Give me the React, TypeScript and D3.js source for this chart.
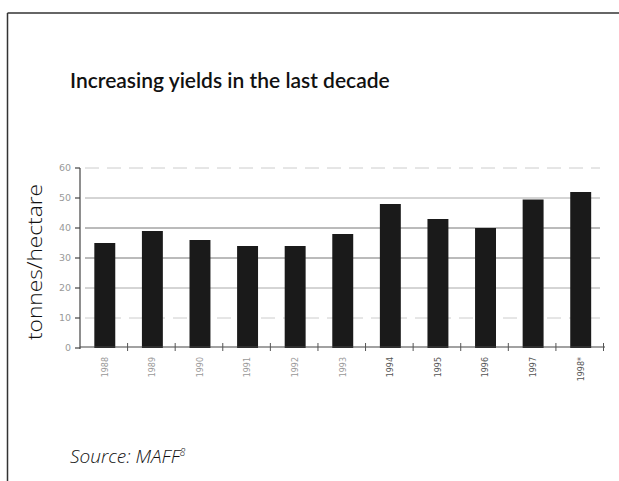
import React from "react";
import * as d3 from "d3";

const years = ["1988", "1989", "1990", "1991", "1992", "1993", "1994", "1995", "1996", "1997", "1998*"];
const yields = [35, 39, 36, 34, 34, 38, 48, 43, 40, 49.5, 52];
const yTicks = [0, 10, 20, 30, 40, 50, 60];
const gridColors = ["#ccc", "#ccc", "#aaa", "#777", "#777", "#aaa", "#ccc"];

const W = 619;
const H = 481;

export default function App() {
  const x = d3.scaleBand<string>().domain(years).range([80, 603.5]).padding(0);
  const y = d3.scaleLinear().domain([0, 60]).range([348, 168]);
  const step = x.step();
  const barW = step * 0.44;

  return (
    <svg width={W} height={H} style={{ position: "absolute", left: 0, top: 0, background: "#fff" }}>
      {/* frame */}
      <line x1={7.5} y1={13} x2={W} y2={13} stroke="#333" strokeWidth={1.5} />
      <line x1={7.5} y1={13} x2={7.5} y2={H} stroke="#333" strokeWidth={1.5} />

      <text x={70} y={88} fontFamily="Lato, 'Open Sans', sans-serif" fontSize={21} fontWeight={600} fill="#111">
        Increasing yields in the last decade
      </text>

      {/* gridlines */}
      {yTicks.filter((t) => t > 0).map((t, i) => (
        <line key={"g" + t} x1={85} x2={600} y1={y(t)} y2={y(t)} stroke={gridColors[i + 1]} strokeWidth={1}
          strokeDasharray={t === 60 || t === 10 ? "14,8" : undefined} />
      ))}

      {/* bars */}
      {years.map((yr, i) => (
        <rect key={yr} x={(x(yr) as number) + (step - barW) / 2 + 1} y={y(yields[i])} width={barW}
          height={y(0) - y(yields[i])} fill="#1a1a1a" />
      ))}

      {/* y axis */}
      <line x1={80} x2={80} y1={168} y2={349} stroke="#444" strokeWidth={1.2} />
      {yTicks.map((t) => (
        <g key={"yt" + t}>
          <line x1={75} x2={80} y1={y(t)} y2={y(t)} stroke="#444" strokeWidth={1.2} />
          <text x={71} y={y(t)} dy="0.35em" textAnchor="end" fontFamily="'DejaVu Sans', sans-serif" fontSize={9.5} fill="#999">
            {t}
          </text>
        </g>
      ))}

      {/* x axis */}
      <line x1={80} x2={605} y1={347} y2={347} stroke="#444" strokeWidth={1.2} />
      {years.map((yr) => (
        <line key={"xt" + yr} x1={(x(yr) as number) + step} x2={(x(yr) as number) + step} y1={343} y2={351}
          stroke="#555" strokeWidth={1} />
      ))}
      {years.map((yr, i) => {
        const cx = (x(yr) as number) + step / 2 + 1;
        return (
          <text key={"xl" + yr} transform={`translate(${cx},357) rotate(-90)`} textAnchor="end" dy="0.35em"
            fontFamily="'DejaVu Sans', sans-serif" fontSize={8} fill={i < 6 ? "#999" : "#555"}>
            {yr}
          </text>
        );
      })}

      {/* y label */}
      <text transform="translate(35,262) rotate(-90)" textAnchor="middle" dy="0.35em"
        fontFamily="'Open Sans', sans-serif" fontSize={20.5} fontWeight={300} fill="#111"
        textLength={156} lengthAdjust="spacingAndGlyphs">
        tonnes/hectare
      </text>

      {/* source */}
      <text x={70} y={463} fontFamily="'Open Sans', sans-serif" fontStyle="italic" fontSize={19} fontWeight={300} fill="#111">
        Source: MAFF<tspan fontSize={10} dy={-7}>8</tspan>
      </text>
    </svg>
  );
}
